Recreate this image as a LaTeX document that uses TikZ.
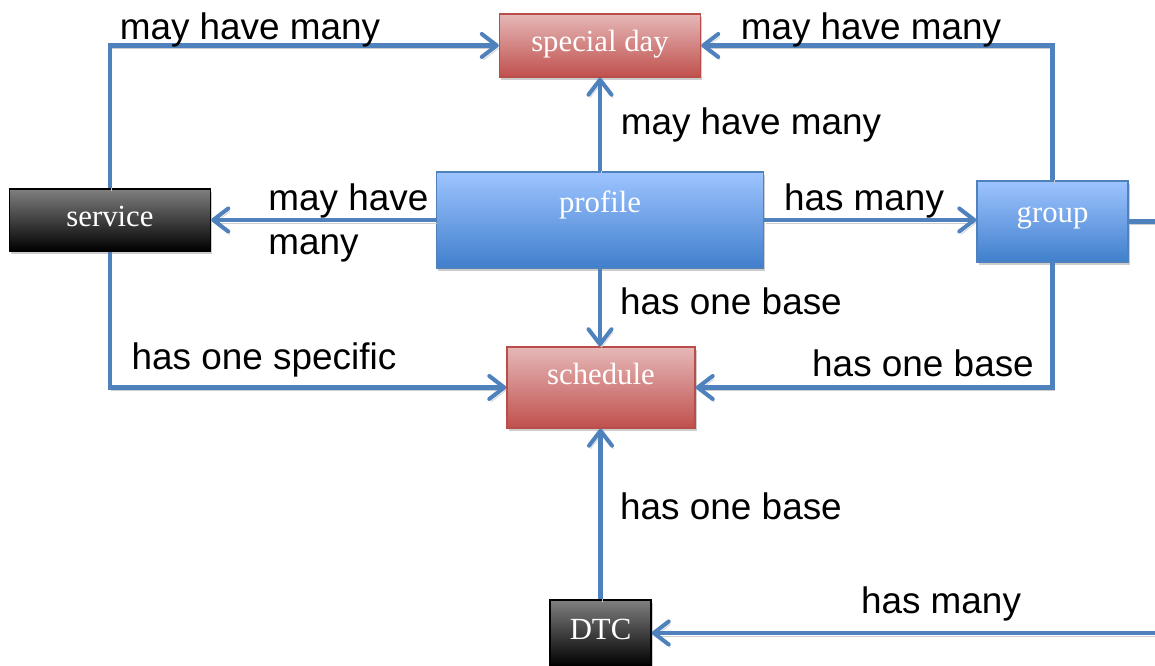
\documentclass[tikz,border=0pt]{standalone}
\usepackage{fontspec}
\setmainfont{Liberation Serif}
\newfontfamily\labelfont{Liberation Sans}
\usepackage{xcolor}
\usepackage{tikz}
\usetikzlibrary{arrows.meta, positioning, calc, shadows}
\definecolor{lineBlue}{RGB}{79, 129, 189}
\definecolor{redTop}{RGB}{229, 184, 183}
\definecolor{redBottom}{RGB}{192, 80, 77}
\definecolor{redEdge}{RGB}{185, 77, 74}
\definecolor{blueTop}{RGB}{158, 196, 255}
\definecolor{blueBottom}{RGB}{64, 127, 204}
\definecolor{blueEdge}{RGB}{79, 129, 189}
\definecolor{shadowGray}{RGB}{205, 205, 205}

\begin{document}
\begin{tikzpicture}[
            % Define Block Styles
            box/.style={
                rectangle,
                draw,
                line width=0.8pt,
                text=white,
                inner sep=0.1cm,
                text height=0.45cm,
                text depth=0.2cm,
                font=\fontsize{17.5}{20}\selectfont,
                drop shadow={shadow xshift=0.03cm, shadow yshift=-0.06cm,
                             fill=shadowGray, opacity=1}
            },
            redbox/.style={
                box,
                draw=redEdge,
                top color=redTop,
                bottom color=redBottom
            },
            bluebox/.style={
                box,
                draw=blueEdge,
                top color=blueTop,
                bottom color=blueBottom
            },
            darkbox/.style={
                box,
                draw=black,
                top color=black!50,
                bottom color=black
            },
            line/.style={
                draw,
                -{Straight Barb[round, length=0.3cm, width=0.46cm]},
                line width=2.3pt,
                color=lineBlue,
                preaction={draw=shadowGray,
                           transform canvas={shift={(0.03,-0.06)}}}
            },
            tag/.style={
                font=\labelfont\fontsize{21}{25}\selectfont,
                align=left,
                inner sep=0pt
            }
        ]

        \useasboundingbox (0,0) rectangle (23.1,13.32);
        \clip (0,0) rectangle (23.1,13.32);

        % --- Nodes ---
        \node [redbox, minimum width=4.02cm, minimum height=1.26cm, text depth=0.19cm] (special) at (12.0,12.41) {special day};
        \node [darkbox, minimum width=4.02cm, minimum height=1.24cm] (service) at (2.2,8.92) {service};
        \node [bluebox, minimum width=6.54cm, minimum height=1.92cm, text depth=0.75cm] (profile) at (12.0,8.92) {profile};
        \node [bluebox, minimum width=3.02cm, minimum height=1.62cm, text depth=0.39cm] (group) at (21.05,8.89) {group};
        \node [redbox, minimum width=3.76cm, minimum height=1.62cm, text depth=0.55cm] (schedule) at (12.02,5.57) {schedule};
        \node [darkbox, minimum width=2.02cm, minimum height=1.32cm] (dtc) at (12.01,0.66) {DTC};

        % --- Edges ---
        \path [line] (service.north) |- (special.west);
        \path [line] (group.north) |- (special.east);
        \path [line] (profile.north) -- (special.south);
        \path [line] (profile.west) -- (service.east);
        \path [line] (profile.east) -- (profile.east -| group.west);
        \path [line] (profile.south) -- (profile.south |- schedule.north);
        \path [line] (service.south) |- (schedule.west);
        \path [line] (group.south) |- (schedule.east);
        \path [line] (dtc.north) -- (dtc.north |- schedule.south);
        \path [line] (group.east) -- ++(1.2,0) |- (dtc.east);

        % --- Labels ---
        \node [tag] (lblServiceDay) at (5.0,12.72) {may have many};
        \node [tag] (lblGroupDay) at (17.42,12.72) {may have many};
        \node [tag] (lblProfileDay) at (15.02,10.82) {may have many};
        \node [tag, anchor=west] (lblProfileService) at (5.36,8.86) {may have\\many};
        \node [tag] (lblProfileGroup) at (17.28,9.30) {has many};
        \node [tag] (lblProfileSchedule) at (14.62,7.30) {has one base};
        \node [tag] (lblServiceSchedule) at (5.28,6.13) {has one specific};
        \node [tag] (lblGroupSchedule) at (18.46,6.06) {has one base};
        \node [tag] (lblDtcSchedule) at (14.62,3.20) {has one base};
        \node [tag] (lblGroupDtc) at (18.82,1.25) {has many};

        \end{tikzpicture}
\end{document}
